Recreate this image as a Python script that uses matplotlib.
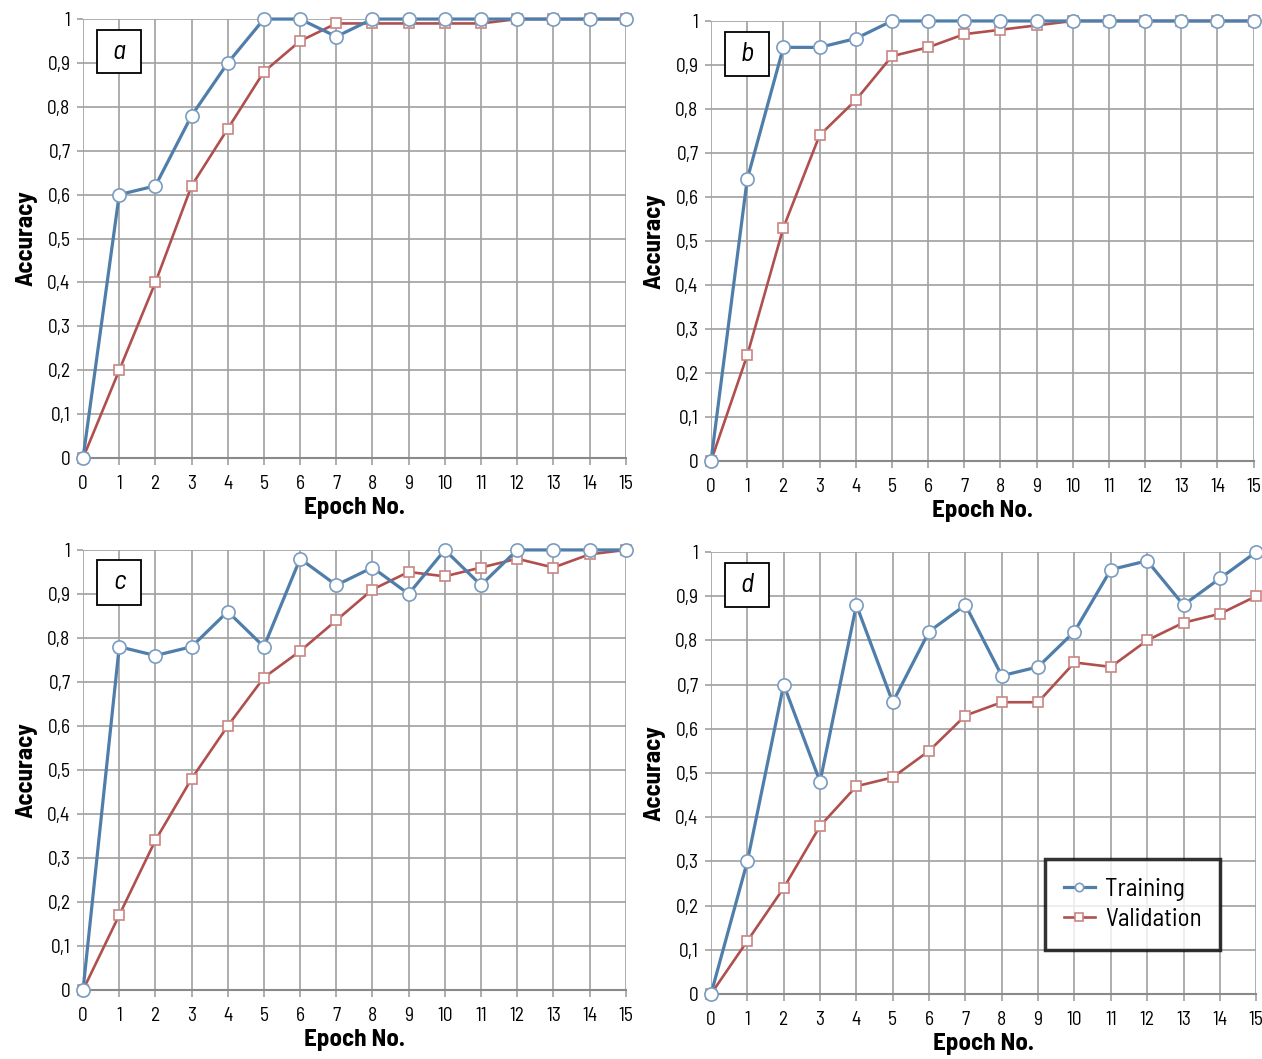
import matplotlib
matplotlib.use("Agg")
import matplotlib.pyplot as plt
from matplotlib.patches import Rectangle
from matplotlib.ticker import FuncFormatter

epochs = list(range(16))

train_a = [0, 0.60, 0.62, 0.78, 0.90, 1, 1, 0.96, 1, 1, 1, 1, 1, 1, 1, 1]
valid_a = [0, 0.20, 0.40, 0.62, 0.75, 0.88, 0.95, 0.99, 0.99, 0.99, 0.99, 0.99, 1, 1, 1, 1]

train_b = [0, 0.64, 0.94, 0.94, 0.96, 1, 1, 1, 1, 1, 1, 1, 1, 1, 1, 1]
valid_b = [0, 0.24, 0.53, 0.74, 0.82, 0.92, 0.94, 0.97, 0.98, 0.99, 1, 1, 1, 1, 1, 1]

train_c = [0, 0.78, 0.76, 0.78, 0.86, 0.78, 0.98, 0.92, 0.96, 0.90, 1.0, 0.92, 1, 1, 1, 1]
valid_c = [0, 0.17, 0.34, 0.48, 0.60, 0.71, 0.77, 0.84, 0.91, 0.95, 0.94, 0.96, 0.98, 0.96, 0.99, 1]

train_d = [0, 0.30, 0.70, 0.48, 0.88, 0.66, 0.82, 0.88, 0.72, 0.74, 0.82, 0.96, 0.98, 0.88, 0.94, 1.0]
valid_d = [0, 0.12, 0.24, 0.38, 0.47, 0.49, 0.55, 0.63, 0.66, 0.66, 0.75, 0.74, 0.80, 0.84, 0.86, 0.90]

panel_labels = ["a", "b", "c", "d"]

plt.rcParams['font.family'] = ['Barlow Semi Condensed', 'DejaVu Sans']

blue = '#4f7eab'
blue_edge = '#7a9cc0'
red = '#b0504e'
red_edge = '#c98583'
grid_col = '#a0a0a0'

fig = plt.figure(figsize=(12.62, 10.59), dpi=100)
rects = [
    [0.0658, 0.5675, 0.430, 0.4145],
    [0.5634, 0.5647, 0.430, 0.4155],
    [0.0658, 0.0652, 0.430, 0.4155],
    [0.5634, 0.0614, 0.432, 0.4174],
]
data = [(train_a, valid_a), (train_b, valid_b), (train_c, valid_c), (train_d, valid_d)]

comma = FuncFormatter(lambda v, p: ('%g' % round(v, 1)).replace('.', ','))

for rect, (tr, va), lab in zip(rects, data, panel_labels):
    ax = fig.add_axes(rect)
    ax.plot(epochs, tr, color=blue, lw=2.3, marker='o', ms=9.5, mfc='white',
            mec=blue_edge, mew=1.2, clip_on=False, zorder=4, label='Training')
    ax.plot(epochs, va, color=red, lw=1.9, marker='s', ms=7.5, mfc='white',
            mec=red_edge, mew=1.2, clip_on=False, zorder=3, label='Validation')
    ax.set_xlim(0, 15)
    ax.set_ylim(0, 1)
    ax.set_xticks(range(16))
    ax.set_yticks([i / 10 for i in range(11)])
    ax.yaxis.set_major_formatter(comma)
    ax.grid(True, color=grid_col, lw=1.2)
    ax.set_axisbelow(True)
    for s in ax.spines.values():
        s.set_visible(False)
    ax.spines['bottom'].set_visible(True)
    ax.spines['bottom'].set_color('#8a8a8a')
    ax.spines['bottom'].set_linewidth(1.5)
    ax.tick_params(axis='x', length=5, color=grid_col, width=1.2, pad=7, labelsize=14)
    ax.tick_params(axis='y', length=4, color=grid_col, width=1.2, pad=5, labelsize=14)
    ax.set_xlabel('Epoch No.', fontsize=18, fontweight='bold', labelpad=3)
    ax.set_ylabel('Accuracy', fontsize=18, fontweight='bold', labelpad=7)
    ax.add_patch(Rectangle((0.026, 0.876), 0.081, 0.1, transform=ax.transAxes,
                           facecolor='white', edgecolor='black', lw=1.3, zorder=6))
    ax.text(0.0665, 0.926, lab, transform=ax.transAxes, ha='center', va='center',
            fontsize=20, fontstyle='italic', zorder=7)

leg = ax.legend(loc='lower right', bbox_to_anchor=(0.934, 0.1), borderaxespad=0,
                fontsize=18, frameon=True, fancybox=False, handlelength=1.25,
                borderpad=0.75, labelspacing=0.3, handletextpad=0.4)
leg.get_frame().set_edgecolor('black')
leg.get_frame().set_linewidth(2.5)
for h in leg.legend_handles:
    h.set_markersize(6)

fig.savefig('out.png', dpi=100)
